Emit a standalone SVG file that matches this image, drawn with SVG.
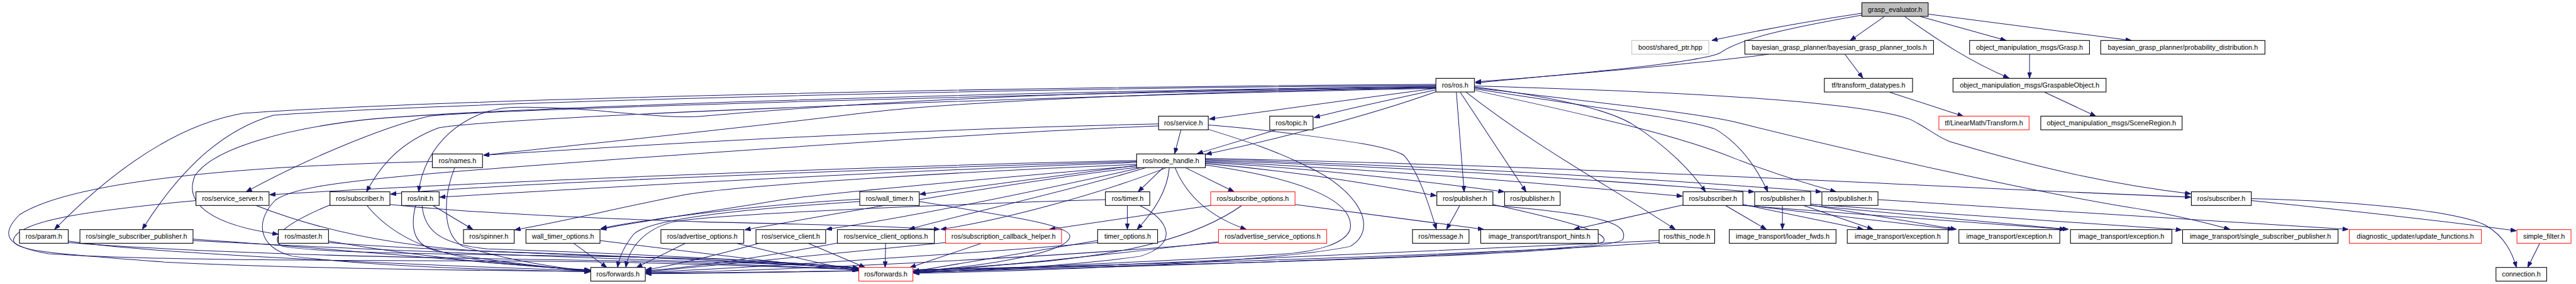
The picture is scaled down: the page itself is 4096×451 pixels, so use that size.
<svg xmlns="http://www.w3.org/2000/svg" width="4096" height="451" viewBox="0 0 4096 451">
<defs>
<style>
.e{fill:none;stroke:#191970;stroke-width:1.3;marker-end:url(#a)}
.n{fill:#fff;stroke:#000;stroke-width:1.4}
.r{fill:#fff;stroke:#ff2020;stroke-width:1.4}
.t{font-family:"Liberation Sans",Arial,sans-serif;font-size:14px;text-anchor:middle;fill:#000}
</style>
<marker id="a" viewBox="0 0 12 9" refX="12" refY="4.5" markerWidth="12" markerHeight="9" markerUnits="userSpaceOnUse" orient="auto"><path d="M0,0 L12,4.5 L0,9 z" fill="#191970" stroke="#191970"/></marker>
</defs>
<rect width="4096" height="451" fill="#fff"/>
<g transform="scale(0.775)">
<g id="connectors">
<path class="e" d="M3820,27 C3700,45 3580,68 3512,83"/>
<path class="e" d="M3820,31 C3660,59 3570,80 3530,108 C3480,132 3150,157 3027,170"/>
<path class="e" d="M3629,111 C3450,135 3150,158 3027,168"/>
<path class="e" d="M3866,34 L3796,83"/>
<path class="e" d="M3908,34 C3980,85 4040,125 4122,160"/>
<path class="e" d="M3940,34 L4116,83"/>
<path class="e" d="M3957,29 L4373,83"/>
<path class="e" d="M3785,111 L3822,160"/>
<path class="e" d="M4164,111 L4164,160"/>
<path class="e" d="M4195,189 L4300,238"/>
<path class="e" d="M3877,189 L4028,238"/>
<path class="e" d="M2946,181 C2800,200 2600,228 2481,244"/>
<path class="e" d="M2946,184 C2850,205 2750,226 2696,241"/>
<path class="e" d="M2946,188 C2800,240 2600,290 2474,316"/>
<path class="e" d="M2988,189 L3004,393"/>
<path class="e" d="M2996,189 L3131,393"/>
<path class="e" d="M3008,189 C3150,300 3300,380 3437,470"/>
<path class="e" d="M3025,178 C3200,200 3300,225 3350,255 C3420,300 3470,350 3499,393"/>
<path class="e" d="M3025,176 C3300,184 3800,200 3920,245 C3960,265 3970,278 4000,290 C4200,350 4350,380 4495,397"/>
<path class="e" d="M3025,180 C3300,212 3480,232 3560,250 C3800,310 4200,400 4400,430 C4480,445 4540,460 4575,470"/>
<path class="e" d="M3025,182 C3300,225 3470,245 3520,265 C3570,295 3605,345 3627,393"/>
<path class="e" d="M3025,185 C3300,245 3450,280 3560,325 C3650,360 3720,380 3767,393"/>
<path class="e" d="M2946,173 C2000,178 900,205 500,232 C380,252 250,330 112,470"/>
<path class="e" d="M2946,175 C2000,181 900,212 561,236 C470,262 380,330 292,470"/>
<path class="e" d="M2946,177 C2000,188 1000,222 752,245 C600,262 440,300 400,360 C375,420 440,462 571,480"/>
<path class="e" d="M2946,179 C2000,194 1000,225 880,238 C780,262 620,330 505,393"/>
<path class="e" d="M2946,181 C2000,200 1000,242 900,262 C820,292 780,340 752,393"/>
<path class="e" d="M2946,178 C2200,186 1800,207 1441,238 C1350,246 1200,216 1050,220 C950,225 870,300 859,393"/>
<path class="e" d="M2946,180 C2300,190 1900,214 1760,233 C1500,265 1200,295 992,318"/>
<path class="e" d="M2423,266 L2410,315"/>
<path class="e" d="M2377,254 C2000,262 1500,285 992,318"/>
<path class="e" d="M2377,258 C2000,272 1200,330 880,356 C700,372 600,385 565,410 C525,450 525,505 600,525 C800,550 1100,555 1211,557"/>
<path class="e" d="M2479,256 C2560,262 2620,270 2660,275 C2760,288 2850,300 2880,318 C2910,350 2932,420 2947,470"/>
<path class="e" d="M2479,265 C2560,290 2620,310 2680,340 C2790,390 2830,470 2770,505 C2600,540 2100,555 1875,560"/>
<path class="e" d="M2618,266 L2456,315"/>
<path class="e" d="M2332,329 C1800,340 1000,372 553,399"/>
<path class="e" d="M2332,331 C1800,346 1000,377 801,398"/>
<path class="e" d="M2332,333 C1800,352 1200,386 902,404"/>
<path class="e" d="M2332,337 C2000,350 1500,380 1400,400 C1250,430 1150,455 1056,471"/>
<path class="e" d="M2332,340 C2100,360 1700,395 1600,410 C1450,435 1300,455 1232,470"/>
<path class="e" d="M2332,339 L1887,398"/>
<path class="e" d="M2334,343 C2100,370 1700,440 1528,471"/>
<path class="e" d="M2340,344 C2200,375 1900,440 1695,470"/>
<path class="e" d="M2350,344 C2200,390 1950,445 1865,470"/>
<path class="e" d="M2392,344 C2250,400 2050,452 1930,470"/>
<path class="e" d="M2386,344 L2335,393"/>
<path class="e" d="M2399,344 C2395,390 2370,430 2333,470"/>
<path class="e" d="M2433,344 L2532,393"/>
<path class="e" d="M2411,344 C2430,390 2470,440 2557,470"/>
<path class="e" d="M2473,335 C2700,355 2850,385 2947,401"/>
<path class="e" d="M2473,333 C2700,345 2950,375 3086,393"/>
<path class="e" d="M2473,331 C2900,350 3200,380 3452,402"/>
<path class="e" d="M2473,329 C3000,345 3400,380 3599,393"/>
<path class="e" d="M2473,327 C3000,340 3500,375 3737,393"/>
<path class="e" d="M2473,325 C3200,338 4000,385 4495,404"/>
<path class="e" d="M2473,338 C2700,370 2780,420 2770,470 C2760,500 2700,515 2640,520 C2400,535 2000,552 1874,557"/>
<path class="e" d="M888,421 L970,470"/>
<path class="e" d="M800,419 C1000,440 1300,450 1450,455 C1700,460 1850,465 1928,470"/>
<path class="e" d="M1764,408 C1550,420 1320,450 1233,468"/>
<path class="e" d="M2313,421 L2313,470"/>
<path class="e" d="M2484,421 L2153,470"/>
<path class="e" d="M2657,419 L3044,470"/>
<path class="e" d="M2995,421 L2968,470"/>
<path class="e" d="M3453,420 L3229,470"/>
<path class="e" d="M3540,421 L3624,470"/>
<path class="e" d="M3576,419 L3823,470"/>
<path class="e" d="M3576,420 L4008,470"/>
<path class="e" d="M3576,421 L4238,470"/>
<path class="e" d="M3657,421 L3657,470"/>
<path class="e" d="M3700,421 L3843,470"/>
<path class="e" d="M3714,420 L4014,470"/>
<path class="e" d="M3714,421 L4244,470"/>
<path class="e" d="M3715,418 C4000,440 4300,460 4476,471"/>
<path class="e" d="M3853,409 C4100,425 4500,450 4818,470"/>
<path class="e" d="M4619,407 C4850,412 5050,435 5100,462 C5140,485 5155,520 5163,548"/>
<path class="e" d="M4619,411 C4800,430 5000,450 5163,473"/>
<path class="e" d="M5211,498 L5186,548"/>
<path class="e" d="M140,494 C300,520 900,545 1211,555"/>
<path class="e" d="M396,490 C700,510 1000,540 1211,554"/>
<path class="e" d="M674,494 C850,525 1050,545 1211,553"/>
<path class="e" d="M402,411 C200,430 40,450 28,490 C22,515 120,520 337,537 C600,550 1000,555 1211,556"/>
<path class="e" d="M752,420 C800,480 880,520 1000,535 C1100,545 1170,552 1211,556"/>
<path class="e" d="M853,420 C840,470 850,505 900,515 C1000,535 1150,550 1211,556"/>
<path class="e" d="M933,343 C910,400 905,480 950,505 C1050,535 1150,550 1211,555"/>
<path class="e" d="M140,497 C500,525 1000,530 1300,535 C1500,540 1650,548 1761,552"/>
<path class="e" d="M396,493 C800,515 1200,528 1400,535 C1600,540 1700,546 1761,551"/>
<path class="e" d="M674,497 C900,515 1300,525 1500,535 C1650,540 1720,545 1761,550"/>
<path class="e" d="M525,421 C650,470 800,505 1000,515 C1300,525 1600,540 1761,550"/>
<path class="e" d="M677,420 C580,460 550,490 580,505 C700,525 1200,520 1500,532 C1650,540 1720,545 1761,549"/>
<path class="e" d="M866,421 C870,470 900,500 1000,510 C1300,520 1600,535 1761,549"/>
<path class="e" d="M887,331 C500,340 150,370 40,440 C0,480 10,505 100,520 C400,540 1000,530 1300,538 C1500,543 1650,548 1761,553"/>
<path class="e" d="M1176,498 L1245,548"/>
<path class="e" d="M1231,493 C1450,520 1650,545 1761,554"/>
<path class="e" d="M1407,498 L1306,548"/>
<path class="e" d="M1509,498 C1600,520 1700,545 1761,555"/>
<path class="e" d="M1559,498 C1480,520 1400,540 1325,553"/>
<path class="e" d="M1657,498 L1775,548"/>
<path class="e" d="M1718,498 C1600,520 1450,545 1325,555"/>
<path class="e" d="M1817,498 L1816,548"/>
<path class="e" d="M1764,413 C1500,430 1330,450 1300,480 C1280,505 1270,530 1267,548"/>
<path class="e" d="M1886,413 C2050,440 2200,460 2195,485 C2190,520 2000,548 1874,556"/>
<path class="e" d="M2015,498 L1867,548"/>
<path class="e" d="M1940,497 C1700,520 1450,545 1325,557"/>
<path class="e" d="M2268,409 C1900,420 1450,440 1380,455 C1320,470 1290,510 1284,548"/>
<path class="e" d="M2338,421 C2400,450 2420,500 2340,525 C2200,545 2000,555 1874,558"/>
<path class="e" d="M2252,493 L1874,556"/>
<path class="e" d="M2252,497 C2000,520 1500,550 1325,558"/>
<path class="e" d="M2500,495 C2300,520 2000,550 1874,557"/>
<path class="e" d="M2500,497 C2200,525 1600,555 1325,559"/>
<path class="e" d="M2548,421 C2450,490 2300,520 2150,535 C2000,548 1920,552 1874,556"/>
<path class="e" d="M3063,419 C3250,460 3300,480 3290,495 C3270,515 2600,540 1874,558"/>
<path class="e" d="M3063,421 C3300,440 3340,460 3330,490 C3310,520 2500,548 1325,560"/>
<path class="e" d="M3404,493 C3000,510 2400,540 1874,559"/>
<path class="e" d="M3404,497 C3000,525 2000,555 1325,561"/>
</g>
<g id="n0"><rect x="3820" y="5.5" width="136" height="28" fill="#bfbfbf" stroke="#000" stroke-width="1.4"/><text class="t" x="3888" y="24.5">grasp_evaluator.h</text></g>
<g id="n1"><rect x="3348" y="83" width="158" height="28" fill="#fff" stroke="#bfbfbf" stroke-width="1.4"/><text class="t" x="3427" y="102">boost/shared_ptr.hpp</text></g>
<g id="n2"><rect class="n" x="3580" y="83" width="387" height="28"/><text class="t" x="3773.5" y="102">bayesian_grasp_planner/bayesian_grasp_planner_tools.h</text></g>
<g id="n3"><rect class="n" x="4041" y="83" width="246" height="28"/><text class="t" x="4164" y="102">object_manipulation_msgs/Grasp.h</text></g>
<g id="n4"><rect class="n" x="4310" y="83" width="337" height="28"/><text class="t" x="4478.5" y="102">bayesian_grasp_planner/probability_distribution.h</text></g>
<g id="n5"><rect class="n" x="2946" y="160.5" width="79" height="28"/><text class="t" x="2985.5" y="179.5">ros/ros.h</text></g>
<g id="n6"><rect class="n" x="3743" y="160.5" width="181" height="28"/><text class="t" x="3833.5" y="179.5">tf/transform_datatypes.h</text></g>
<g id="n7"><rect class="n" x="4007" y="160.5" width="314" height="28"/><text class="t" x="4164" y="179.5">object_manipulation_msgs/GraspableObject.h</text></g>
<g id="n8"><rect class="n" x="2377" y="238" width="102" height="28"/><text class="t" x="2428" y="257">ros/service.h</text></g>
<g id="n9"><rect class="n" x="2605" y="238" width="89" height="28"/><text class="t" x="2649.5" y="257">ros/topic.h</text></g>
<g id="n10"><rect class="r" x="3978" y="238" width="185" height="28"/><text class="t" x="4070.5" y="257">tf/LinearMath/Transform.h</text></g>
<g id="n11"><rect class="n" x="4187" y="238" width="290" height="28"/><text class="t" x="4332" y="257">object_manipulation_msgs/SceneRegion.h</text></g>
<g id="n12"><rect class="n" x="887" y="315.5" width="103" height="28"/><text class="t" x="938.5" y="334.5">ros/names.h</text></g>
<g id="n13"><rect class="n" x="2332" y="315.5" width="141" height="28"/><text class="t" x="2402.5" y="334.5">ros/node_handle.h</text></g>
<g id="n14"><rect class="n" x="402" y="393" width="150" height="28"/><text class="t" x="477" y="412">ros/service_server.h</text></g>
<g id="n15"><rect class="n" x="677" y="393" width="123" height="28"/><text class="t" x="738.5" y="412">ros/subscriber.h</text></g>
<g id="n16"><rect class="n" x="824" y="393" width="77" height="28"/><text class="t" x="862.5" y="412">ros/init.h</text></g>
<g id="n17"><rect class="n" x="1764" y="393" width="122" height="28"/><text class="t" x="1825" y="412">ros/wall_timer.h</text></g>
<g id="n18"><rect class="n" x="2268" y="393" width="91" height="28"/><text class="t" x="2313.5" y="412">ros/timer.h</text></g>
<g id="n19"><rect class="r" x="2484" y="393" width="173" height="28"/><text class="t" x="2570.5" y="412">ros/subscribe_options.h</text></g>
<g id="n20"><rect class="n" x="2948" y="393" width="115" height="28"/><text class="t" x="3005.5" y="412">ros/publisher.h</text></g>
<g id="n21"><rect class="n" x="3087" y="393" width="114" height="28"/><text class="t" x="3144" y="412">ros/publisher.h</text></g>
<g id="n22"><rect class="n" x="3453" y="393" width="123" height="28"/><text class="t" x="3514.5" y="412">ros/subscriber.h</text></g>
<g id="n23"><rect class="n" x="3600" y="393" width="115" height="28"/><text class="t" x="3657.5" y="412">ros/publisher.h</text></g>
<g id="n24"><rect class="n" x="3738" y="393" width="115" height="28"/><text class="t" x="3795.5" y="412">ros/publisher.h</text></g>
<g id="n25"><rect class="n" x="4496" y="393" width="123" height="28"/><text class="t" x="4557.5" y="412">ros/subscriber.h</text></g>
<g id="n26"><rect class="n" x="40" y="470.5" width="100" height="28"/><text class="t" x="90" y="489.5">ros/param.h</text></g>
<g id="n27"><rect class="n" x="164" y="470.5" width="232" height="28"/><text class="t" x="280" y="489.5">ros/single_subscriber_publisher.h</text></g>
<g id="n28"><rect class="n" x="571" y="470.5" width="103" height="28"/><text class="t" x="622.5" y="489.5">ros/master.h</text></g>
<g id="n29"><rect class="n" x="951" y="470.5" width="104" height="28"/><text class="t" x="1003" y="489.5">ros/spinner.h</text></g>
<g id="n30"><rect class="n" x="1079" y="470.5" width="152" height="28"/><text class="t" x="1155" y="489.5">wall_timer_options.h</text></g>
<g id="n31"><rect class="n" x="1356" y="470.5" width="170" height="28"/><text class="t" x="1441" y="489.5">ros/advertise_options.h</text></g>
<g id="n32"><rect class="n" x="1551" y="470.5" width="143" height="28"/><text class="t" x="1622.5" y="489.5">ros/service_client.h</text></g>
<g id="n33"><rect class="n" x="1718" y="470.5" width="199" height="28"/><text class="t" x="1817.5" y="489.5">ros/service_client_options.h</text></g>
<g id="n34"><rect class="r" x="1940" y="470.5" width="238" height="28"/><text class="t" x="2059" y="489.5">ros/subscription_callback_helper.h</text></g>
<g id="n35"><rect class="n" x="2252" y="470.5" width="123" height="28"/><text class="t" x="2313.5" y="489.5">timer_options.h</text></g>
<g id="n36"><rect class="r" x="2500" y="470.5" width="222" height="28"/><text class="t" x="2611" y="489.5">ros/advertise_service_options.h</text></g>
<g id="n37"><rect class="n" x="2898" y="470.5" width="116" height="28"/><text class="t" x="2956" y="489.5">ros/message.h</text></g>
<g id="n38"><rect class="n" x="3038" y="470.5" width="241" height="28"/><text class="t" x="3158.5" y="489.5">image_transport/transport_hints.h</text></g>
<g id="n39"><rect class="n" x="3404" y="470.5" width="114" height="28"/><text class="t" x="3461" y="489.5">ros/this_node.h</text></g>
<g id="n40"><rect class="n" x="3548" y="470.5" width="219" height="28"/><text class="t" x="3657.5" y="489.5">image_transport/loader_fwds.h</text></g>
<g id="n41"><rect class="n" x="3790" y="470.5" width="207" height="28"/><text class="t" x="3893.5" y="489.5">image_transport/exception.h</text></g>
<g id="n42"><rect class="n" x="4019" y="470.5" width="207" height="28"/><text class="t" x="4122.5" y="489.5">image_transport/exception.h</text></g>
<g id="n43"><rect class="n" x="4248" y="470.5" width="208" height="28"/><text class="t" x="4352" y="489.5">image_transport/exception.h</text></g>
<g id="n44"><rect class="n" x="4478" y="470.5" width="319" height="28"/><text class="t" x="4637.5" y="489.5">image_transport/single_subscriber_publisher.h</text></g>
<g id="n45"><rect class="r" x="4820" y="470.5" width="271" height="28"/><text class="t" x="4955.5" y="489.5">diagnostic_updater/update_functions.h</text></g>
<g id="n46"><rect class="r" x="5164" y="470.5" width="111" height="28"/><text class="t" x="5219.5" y="489.5">simple_filter.h</text></g>
<g id="n47"><rect class="n" x="1212" y="548" width="112" height="28"/><text class="t" x="1268" y="567">ros/forwards.h</text></g>
<g id="n48"><rect class="r" x="1762" y="548" width="111" height="28"/><text class="t" x="1817.5" y="567">ros/forwards.h</text></g>
<g id="n49"><rect class="n" x="5121" y="548" width="104" height="28"/><text class="t" x="5173" y="567">connection.h</text></g>
</g>
</svg>
